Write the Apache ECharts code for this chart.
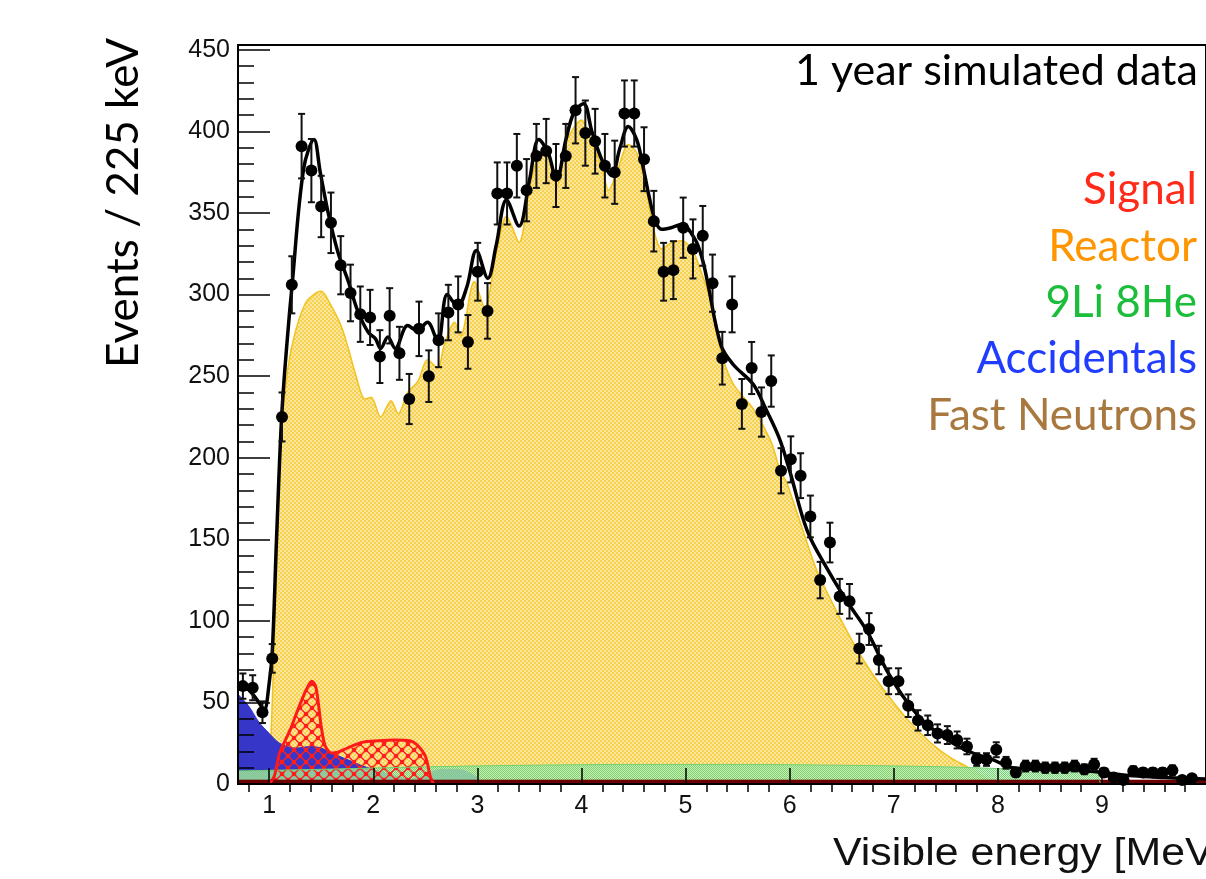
<!DOCTYPE html>
<html>
<head>
<meta charset="utf-8">
<script src="https://cdn.jsdelivr.net/npm/echarts@6/dist/echarts.min.js"></script>
<style>
  html, body { margin: 0; padding: 0; background: #fff; }
  #chart { width: 1206px; height: 879px; }
</style>
</head>
<body>
<div id="chart"></div>
<script>
// ---- Simulated data set: 100 bins starting at 0.7 MeV ----
const BIN_START = 0.7;   // MeV
const BIN_WIDTH = 0.094; // MeV

const dataCounts = [
  60, 59, 44, 77, 225, 306, 391, 376, 354, 344,
  318, 301, 288, 286, 262, 287, 264, 236, 279, 250,
  272, 289, 294, 271, 314, 290, 362, 362, 379, 364,
  385, 388, 373, 385, 413, 399, 394, 379, 375, 411,
  411, 383, 345, 314, 315, 341, 328, 336, 307, 261,
  294, 233, 255, 228, 247, 192, 199, 189, 164, 125,
  148, 115, 112, 83, 95, 76, 63, 63, 48, 39,
  36, 31, 30, 27, 23, 15, 15, 21, 13, 7,
  11, 11, 10, 10, 10, 11, 9, 12, 7, 4,
  2.5, 8, 7, 7, 7, 8.5, 2.5, 3.5
];

// ---- Total fit ----
const fitEnergy = [
  0.70, 0.80, 0.90, 0.95, 1.00, 1.03, 1.07, 1.12, 1.17, 1.22,
  1.33, 1.43, 1.49, 1.57, 1.66, 1.76, 1.85, 1.95, 2.02, 2.07,
  2.14, 2.21, 2.33, 2.42, 2.52, 2.62, 2.71, 2.81, 2.90, 2.99,
  3.10, 3.18, 3.28, 3.40, 3.50, 3.59, 3.68, 3.76, 3.85, 3.93,
  4.02, 4.10, 4.20, 4.29, 4.37, 4.45, 4.53, 4.58, 4.65, 4.71,
  4.77, 4.86, 4.96, 5.09, 5.16, 5.21, 5.34, 5.46, 5.65, 5.77,
  5.90, 6.00, 6.17, 6.36, 6.55, 6.74, 6.93, 7.12, 7.31, 7.57,
  7.76, 7.95, 8.14, 8.50, 8.80, 9.00, 9.30, 9.60, 10.0
];
const fitCounts = [
  62, 58, 50, 45, 62, 82, 150, 226, 270, 306,
  377, 395, 375, 349, 326, 308, 290, 277, 273, 267,
  274, 267, 281, 278, 283, 271, 300, 293, 305, 327,
  310, 330, 358, 342, 370, 395, 387, 370, 395, 412,
  417, 400, 382, 373, 390, 403, 395, 382, 360, 345,
  340, 341, 343, 334, 322, 308, 269, 257, 245, 230,
  212, 192, 155, 132, 112, 94, 70, 51, 37, 25,
  19, 15, 10, 9, 8.5, 7, 5, 4, 3
];

// ---- Reactor antineutrinos ----
const reactorEnergy = [
  1.00, 1.04, 1.08, 1.11, 1.18, 1.25, 1.35, 1.45, 1.50, 1.58,
  1.69, 1.76, 1.83, 1.92, 1.98, 2.07, 2.17, 2.24, 2.33, 2.43,
  2.52, 2.62, 2.68, 2.78, 2.84, 2.97, 3.07, 3.18, 3.28, 3.40,
  3.50, 3.57, 3.66, 3.76, 3.85, 4.00, 4.10, 4.20, 4.26, 4.35,
  4.45, 4.53, 4.61, 4.68, 4.77, 4.87, 4.96, 5.06, 5.15, 5.25,
  5.34, 5.46, 5.65, 5.82, 5.91, 5.97, 6.13, 6.26, 6.45, 6.67,
  6.89, 7.14, 7.36, 7.55, 7.72, 7.85, 8.00
];
const reactorCounts = [
  0, 70, 150, 210, 255, 277, 295, 301, 302, 295,
  281, 267, 251, 236, 237, 225, 235, 227, 240, 247,
  260, 255, 269, 283, 275, 308, 292, 325, 348, 332,
  365, 382, 387, 366, 393, 407, 393, 377, 364, 377,
  392, 387, 369, 344, 328, 332, 333, 328, 314, 294,
  265, 245, 230, 210, 192, 185, 155, 131, 106, 80,
  59, 39, 25, 16, 10, 5, 0
];

// ---- Signal ----
const signalEnergy = [
  1.00, 1.05, 1.10, 1.20, 1.26, 1.35, 1.41, 1.45, 1.50, 1.54,
  1.60, 1.66, 1.75, 1.89, 2.05, 2.20, 2.35, 2.42, 2.50, 2.55, 2.58
];
const signalCounts = [
  0, 5, 19, 33, 43, 57, 63, 59, 35, 23,
  19, 19.5, 22, 25.5, 26.5, 27, 26.5, 24, 17, 4, 0
];

// ---- Accidentals ----
const accEnergy = [
  0.70, 0.80, 0.90, 1.00, 1.10, 1.25, 1.40, 1.50, 1.60, 1.75,
  1.90, 2.05, 2.20, 2.35, 2.45, 2.55, 2.65, 2.80, 2.95, 3.05, 3.15
];
const accCounts = [
  55, 48, 38, 31, 25, 22, 23, 22, 19, 15,
  11, 8, 5, 3, 4, 7, 9, 9, 6, 1, 0
];

// ---- 9Li / 8He ----
const liEnergy = [0.70, 1.50, 2.50, 3.50, 4.50, 5.50, 6.50, 7.50, 8.00, 8.50, 8.95, 9.00, 10.0];
const liCounts = [8, 9, 10.5, 11.5, 12, 12, 11.5, 10.5, 9.5, 8.5, 7, 0, 0];

// ---- Fast neutrons ----
const fnEnergy = [0.70, 10.0];
const fnCounts = [2.5, 2.5];

// ---- Axis ticks ----
const xLabels = [1, 2, 3, 4, 5, 6, 7, 8, 9];
const yLabels = [0, 50, 100, 150, 200, 250, 300, 350, 400, 450];

const xMinorTicks = [];
for (let v = 8; v <= 98; v += 2) if (v % 10 !== 0) xMinorTicks.push(v / 10);
const yMinorTicks = [];
for (let v = 10; v <= 450; v += 10) if (v % 50 !== 0) yMinorTicks.push(v);

const zip = (xs, ys) => xs.map((x, i) => [x, ys[i]]);
const binCenters = dataCounts.map((_, i) => +(BIN_START + BIN_WIDTH * (i + 0.5)).toFixed(4));
// Poisson uncertainty of each bin
const dataErrors = dataCounts.map((n, i) => [binCenters[i], n - Math.sqrt(n), n + Math.sqrt(n)]);

// ---- Fill textures ----
function makePattern(size, paint) {
  const c = document.createElement('canvas');
  c.width = size; c.height = size;
  paint(c.getContext('2d'), size);
  return { image: c, repeat: 'repeat' };
}
const reactorFill = makePattern(4, (g, s) => {
  g.fillStyle = '#fce69c'; g.fillRect(0, 0, s, s);
  g.fillStyle = '#f6d253'; g.fillRect(0, 0, 2, 2); g.fillRect(2, 2, 2, 2);
});
const signalFill = makePattern(12, (g, s) => {
  g.strokeStyle = '#ff1e1e'; g.lineWidth = 1.4;
  for (const o of [-s, 0, s]) {
    g.beginPath(); g.moveTo(o, 0); g.lineTo(o + s, s); g.stroke();
    g.beginPath(); g.moveTo(o + s, 0); g.lineTo(o, s); g.stroke();
  }
  g.fillStyle = '#ff1e1e';
  for (const [x, y] of [[0, 0], [s, 0], [0, s], [s, s], [s / 2, s / 2]]) {
    g.beginPath(); g.arc(x, y, 2.3, 0, Math.PI * 2); g.fill();
  }
});
const liFill = makePattern(2, (g, s) => {
  g.fillStyle = 'rgba(200,242,190,0.75)'; g.fillRect(0, 0, s, s);
  g.fillStyle = '#72d27a'; g.fillRect(0, 0, 1, 1); g.fillRect(1, 1, 1, 1);
});

const tickFont = { fontFamily: 'Liberation Sans', fontSize: 25, color: '#111' };
const gillFont = 'Lato';

const chart = echarts.init(document.getElementById('chart'), null, { renderer: 'canvas' });

function areaSeries(name, pairs, lineColor, lineWidth, fill, z) {
  return {
    name, type: 'line', data: pairs, showSymbol: false, smooth: 0.3, z,
    xAxisIndex: 0, yAxisIndex: 0,
    lineStyle: { color: lineColor, width: lineWidth },
    itemStyle: { color: lineColor },
    areaStyle: { color: fill, opacity: 1 },
    emphasis: { disabled: true },
    animation: false
  };
}

chart.setOption({
  animation: false,
  backgroundColor: '#fff',
  grid: {
    left: 238, right: -9, top: 45, bottom: 95,
    show: true, borderColor: '#000', borderWidth: 2, backgroundColor: 'transparent'
  },
  xAxis: [
    {
      type: 'value', min: 0.7, max: 10, z: 10,
      axisLine: { show: true, onZero: false, lineStyle: { color: '#000', width: 2 } },
      axisTick: { show: true, inside: true, length: 16, customValues: xLabels, lineStyle: { color: '#000', width: 1.5 } },
      axisLabel: { show: true, customValues: xLabels, margin: 10, ...tickFont },
      splitLine: { show: false }
    },
    {
      type: 'value', min: 0.7, max: 10, z: 10,
      axisLine: { show: false },
      axisTick: { show: true, inside: true, length: 8, customValues: xMinorTicks, lineStyle: { color: '#000', width: 1.5 } },
      axisLabel: { show: false },
      splitLine: { show: false }
    }
  ],
  yAxis: [
    {
      type: 'value', min: 0, max: 453, z: 10,
      axisLine: { show: true, lineStyle: { color: '#000', width: 2 } },
      axisTick: { show: true, inside: true, length: 32, customValues: yLabels, lineStyle: { color: '#000', width: 1.5 } },
      axisLabel: { show: true, customValues: yLabels, margin: 8, ...tickFont },
      splitLine: { show: false }
    },
    {
      type: 'value', min: 0, max: 453, z: 10, position: 'left',
      axisLine: { show: false },
      axisTick: { show: true, inside: true, length: 16, customValues: yMinorTicks, lineStyle: { color: '#000', width: 1.5 } },
      axisLabel: { show: false },
      splitLine: { show: false }
    }
  ],
  legend: {
    orient: 'vertical', right: 4, top: 162, padding: 0, itemGap: 0,
    itemWidth: 0, itemHeight: 10, align: 'right', icon: 'none',
    selectedMode: false,
    textStyle: { fontFamily: gillFont, fontSize: 44, lineHeight: 56.3 },
    data: [
      { name: 'Signal', textStyle: { color: '#ff2a1a' } },
      { name: 'Reactor', textStyle: { color: '#ff9500' } },
      { name: '9Li 8He', textStyle: { color: '#1bbd3a' } },
      { name: 'Accidentals', textStyle: { color: '#1f3cff' } },
      { name: 'Fast Neutrons', textStyle: { color: '#a8783f' } }
    ]
  },
  graphic: [
    {
      type: 'text', x: 124, y: 203, rotation: Math.PI / 2,
      style: { text: 'Events / 225 keV', fontFamily: gillFont, fontSize: 44, fill: '#000', align: 'center', verticalAlign: 'middle' }
    },
    {
      type: 'text', x: 795, y: 71.5,
      style: { text: '1 year simulated data', fontFamily: gillFont, fontSize: 43, fill: '#000', align: 'left', verticalAlign: 'middle' }
    },
    {
      type: 'text', x: 833, y: 854.5, scaleX: 1.1,
      style: { text: 'Visible energy [MeV]', fontFamily: 'Liberation Sans', fontSize: 39, fill: '#111', align: 'left', verticalAlign: 'middle' }
    }
  ],
  series: [
    areaSeries('Reactor', zip(reactorEnergy, reactorCounts), '#f2c21f', 1.5, reactorFill, 1),
    areaSeries('Accidentals', zip(accEnergy, accCounts), '#3434c8', 1, '#3636c9', 2),
    areaSeries('9Li 8He', zip(liEnergy, liCounts), '#6fd070', 1, liFill, 3),
    areaSeries('Signal', zip(signalEnergy, signalCounts), '#ff1a1a', 3, signalFill, 3),
    Object.assign(areaSeries('Fast Neutrons', zip(fnEnergy, fnCounts), '#6d0000', 0.5, '#6d0000', 3), { smooth: false }),
    {
      name: 'Fit', type: 'line', data: zip(fitEnergy, fitCounts), showSymbol: false, smooth: 0.35, z: 4,
      lineStyle: { color: '#000', width: 3.5 }, itemStyle: { color: '#000' }, emphasis: { disabled: true }
    },
    {
      name: 'Data errors', type: 'custom', z: 5,
      data: dataErrors,
      encode: { x: 0, y: [1, 2] },
      renderItem(params, api) {
        const x = api.value(0);
        const lo = api.coord([x, api.value(1)]);
        const hi = api.coord([x, api.value(2)]);
        const w = 3.5;
        const st = { stroke: '#111', lineWidth: 2 };
        return {
          type: 'group',
          children: [
            { type: 'line', shape: { x1: lo[0], y1: lo[1], x2: hi[0], y2: hi[1] }, style: st },
            { type: 'line', shape: { x1: lo[0] - w, y1: lo[1], x2: lo[0] + w, y2: lo[1] }, style: st },
            { type: 'line', shape: { x1: hi[0] - w, y1: hi[1], x2: hi[0] + w, y2: hi[1] }, style: st }
          ]
        };
      }
    },
    {
      name: 'Data', type: 'scatter', z: 6,
      data: zip(binCenters, dataCounts),
      symbol: 'circle', symbolSize: 12,
      itemStyle: { color: '#000', opacity: 1 }, emphasis: { disabled: true }
    }
  ]
});
</script>
</body>
</html>
